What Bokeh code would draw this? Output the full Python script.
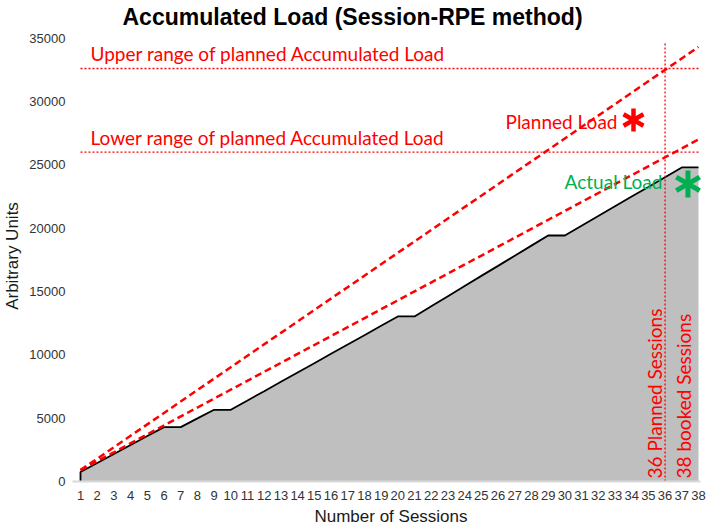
import math

from bokeh.plotting import figure
from bokeh.models import Range1d, FixedTicker, Label, Title
from bokeh.embed import file_html
from bokeh.resources import INLINE

# Accumulated session-RPE load, one value per session (arbitrary units)
sessions = list(range(1, 39))
actual_load = [
    750, 1460, 2170, 2880, 3590, 4290, 4290, 4980, 5660, 5660,
    6400, 7130, 7870, 8610, 9340, 10080, 10820, 11550, 12290, 13030,
    13030, 13830, 14630, 15430, 16230, 17020, 17820, 18620, 19420, 19420,
    20190, 20950, 21720, 22490, 23250, 24020, 24790, 24790,
]

# Planned accumulated load (upper and lower range), from first to last session
planned_sessions = [1, 38]
planned_upper = [900, 34300]
planned_lower = [900, 27000]

# Target ranges of the planned accumulated load and the planned session count
upper_range = 32600
lower_range = 26000
planned_count = 36
booked_count = 38

y_ticks = [0, 5000, 10000, 15000, 20000, 25000, 30000, 35000]

RED = "#ff0000"
GREEN = "#00b050"
NOTE_FONT = "Lato"

p = figure(
    width=709, height=529,
    x_range=Range1d(0.521, 38.66), y_range=Range1d(0, 35600),
    output_backend="svg", toolbar_location=None,
    min_border_left=72, min_border_right=0,
    min_border_top=30, min_border_bottom=48,
)
p.outline_line_color = None
p.xgrid.visible = False
p.ygrid.visible = False
p.background_fill_color = "white"
p.border_fill_color = "white"

p.title = Title(
    text="Accumulated Load (Session-RPE method)",
    align="left", offset=50, vertical_align="bottom", standoff=2,
    text_font="Liberation Sans", text_font_size="23px",
    text_font_style="bold", text_color="#000000",
)

# Axes
xa = p.xaxis[0]
xa.ticker = FixedTicker(ticks=sessions)
xa.bounds = (0.521, 38.1)
xa.axis_line_color = "#d9d9d9"
xa.axis_line_width = 2
xa.major_tick_line_color = None
xa.major_tick_out = 0
xa.major_tick_in = 0
xa.minor_tick_line_color = None
xa.minor_tick_out = 0
xa.major_label_standoff = 9
xa.major_label_text_font = "Liberation Sans"
xa.major_label_text_font_size = "13px"
xa.major_label_text_color = "#333333"
xa.axis_label = "Number of Sessions"
xa.axis_label_standoff = 4
xa.axis_label_text_font = "Liberation Sans"
xa.axis_label_text_font_size = "17px"
xa.axis_label_text_font_style = "normal"
xa.axis_label_text_color = "#1a1a1a"

ya = p.yaxis[0]
ya.ticker = FixedTicker(ticks=y_ticks)
ya.axis_line_color = None
ya.major_tick_line_color = None
ya.major_tick_out = 0
ya.major_tick_in = 0
ya.minor_tick_line_color = None
ya.minor_tick_out = 0
ya.major_label_standoff = 7
ya.major_label_text_font = "Liberation Sans"
ya.major_label_text_font_size = "13px"
ya.major_label_text_color = "#333333"
ya.axis_label = "Arbitrary Units"
ya.axis_label_standoff = 4
ya.axis_label_text_font = "Liberation Sans"
ya.axis_label_text_font_size = "17px"
ya.axis_label_text_font_style = "normal"
ya.axis_label_text_color = "#1a1a1a"

# Actual accumulated load: grey area with a black outline
p.varea(x=sessions, y1=0, y2=actual_load, fill_color="#bfbfbf")
p.line(x=[sessions[0]] + sessions, y=[0] + actual_load,
       line_color="#000000", line_width=1.8)

# Planned load ranges
p.line(x=planned_sessions, y=planned_upper, line_color=RED,
       line_width=2.5, line_dash="7 4")
p.line(x=planned_sessions, y=planned_lower, line_color=RED,
       line_width=2.5, line_dash="7 4")

p.segment(x0=[sessions[0], sessions[0]], x1=[sessions[-1], sessions[-1]],
          y0=[upper_range, lower_range], y1=[upper_range, lower_range],
          line_color=RED, line_width=1.3, line_dash="2 2")
p.segment(x0=[planned_count], x1=[planned_count], y0=[0], y1=[34600],
          line_color=RED, line_width=1.3, line_dash="2 2")

# Annotations
def note(text, x, y, color, align="left", angle=0.0):
    p.add_layout(Label(
        x=x, y=y, text=text, text_color=color, text_font=NOTE_FONT,
        text_font_size="19px", text_align=align, text_baseline="middle",
        angle=angle,
    ))

note("Upper range of planned Accumulated Load", 1.6, 33790, RED)
note("Lower range of planned Accumulated Load", 1.6, 27160, RED)
note("Planned Load", 33.15, 28420, RED, align="right")
note("Actual Load", 35.84, 23690, GREEN, align="right")
note(f"{planned_count} Planned Sessions", 35.35, 240, RED, angle=math.pi / 2)
note(f"{booked_count} booked Sessions", 37.08, 240, RED, angle=math.pi / 2)

# Six-armed asterisks next to the legend notes
arms = [math.pi / 2, math.pi / 6, 5 * math.pi / 6]
p.scatter(x=[34.11] * 3, y=[28540] * 3, marker="dash", angle=arms,
          size=23, line_color=RED, line_width=4.5)
p.scatter(x=[37.37] * 3, y=[23490] * 3, marker="dash", angle=arms,
          size=27, line_color=GREEN, line_width=5)

open("out.html", "w").write(file_html(p, INLINE))
